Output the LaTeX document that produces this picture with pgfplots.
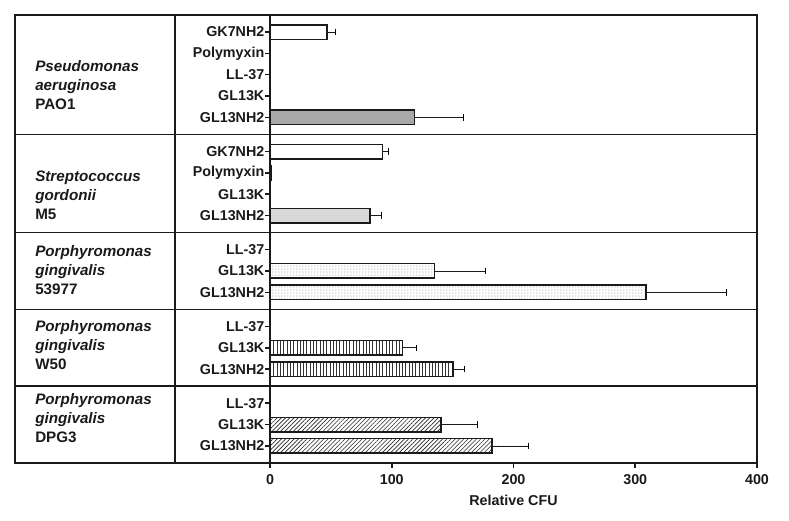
\documentclass[border=0pt]{standalone}
\usepackage{fontspec}
\setmainfont{Liberation Sans}
\usepackage{pgfplots}
\pgfplotsset{compat=1.18}
\usetikzlibrary{patterns.meta}
\definecolor{frame}{HTML}{1A1A1A}
\definecolor{midgray}{HTML}{A8A8A8}
\definecolor{lightgray}{HTML}{D8D8D8}
\begin{document}
\begin{tikzpicture}
\pgfplotsset{eb/.style={error bars/.cd, x dir=plus, x explicit, error mark=|,
  error bar style={line width=0.7pt}, error mark options={rotate=0, mark size=3.2pt, line width=0.7pt}}}
\begin{axis}[
  scale only axis, width=487pt, height=448pt,
  xmin=0, xmax=400, ymin=0, ymax=21, y dir=reverse,
  axis line style={line width=1.6pt, frame},
  clip=false,
  xtick={0,100,200,300,400}, xticklabels={0,100,200,300,400},
  xtick pos=lower, ytick pos=left, tick align=outside,
  major tick length=5pt,
  tick style={line width=1.5pt, frame},
  ytick={0.8,1.8,2.8,3.8,4.8,6.4,7.4,8.4,9.4,11,12,13,14.6,15.6,16.6,18.2,19.2,20.2},
  yticklabels={GK7NH2,Polymyxin,LL-37,GL13K,GL13NH2,GK7NH2,Polymyxin,GL13K,GL13NH2,LL-37,GL13K,GL13NH2,LL-37,GL13K,GL13NH2,LL-37,GL13K,GL13NH2},
  tick label style={font=\bfseries\fontsize{14.3}{15}\selectfont, text=frame},
  yticklabel style={inner xsep=0.5pt},
  xticklabel style={yshift=-3pt},
  xlabel={Relative CFU},
  xlabel style={font=\bfseries\fontsize{14.3}{15}\selectfont, text=frame, yshift=-4pt},
  every axis plot/.append style={xbar, bar shift=0pt, bar width=14.5pt, draw=frame, line width=1.5pt},
]
% white bars
\addplot[fill=white, eb] coordinates {(47,0.8) +- (7,0) (92.5,6.4) +- (5,0)};
% gray bar
\addplot[fill=midgray, eb] coordinates {(118.5,4.8) +- (40.5,0)};
% tiny polymyxin
\addplot[fill=white] coordinates {(1,7.4)};
% light gray bar
\addplot[fill=lightgray, eb] coordinates {(82,9.4) +- (9.5,0)};
% dotted bars
\addplot[pattern={Dots[distance=3pt, radius=0.5pt]}, pattern color=black!55, eb]
  coordinates {(135,12) +- (42,0) (309,13) +- (65.5,0)};
% vertical lines
\addplot[pattern={Lines[angle=90, distance=3.3pt, line width=0.8pt]}, pattern color=black!80, eb]
  coordinates {(109,15.6) +- (11.5,0) (150.5,16.6) +- (9.5,0)};
% hatched
\addplot[pattern={Lines[angle=45, distance=3pt, line width=0.6pt]}, pattern color=black!85, eb]
  coordinates {(140.5,19.2) +- (30,0) (182.5,20.2) +- (30,0)};
% frame and dividers
\draw[line width=1.6pt, frame] (axis cs:-209.4,0) rectangle (axis cs:400,21);
\draw[line width=1.6pt, frame] (axis cs:-78,0) -- (axis cs:-78,21);
\draw[line width=1.6pt, frame] (axis cs:-209.4,5.6) -- (axis cs:400,5.6);
\draw[line width=1.6pt, frame] (axis cs:-209.4,10.2) -- (axis cs:400,10.2);
\draw[line width=1.6pt, frame] (axis cs:-209.4,13.8) -- (axis cs:400,13.8);
\draw[line width=1.6pt, frame] (axis cs:-209.4,17.4) -- (axis cs:400,17.4);
% species labels
\tikzset{sp/.style={anchor=west, align=left, inner sep=0pt, text=frame, font=\bfseries\fontsize{15.2}{19}\selectfont}}
\node[sp] at (axis cs:-193,3.28) {\textit{Pseudomonas}\\\textit{aeruginosa}\\PAO1};
\node[sp] at (axis cs:-193,8.44) {\textit{Streptococcus}\\\textit{gordonii}\\M5};
\node[sp] at (axis cs:-193,11.95) {\textit{Porphyromonas}\\\textit{gingivalis}\\53977};
\node[sp] at (axis cs:-193,15.47) {\textit{Porphyromonas}\\\textit{gingivalis}\\W50};
\node[sp] at (axis cs:-193,18.89) {\textit{Porphyromonas}\\\textit{gingivalis}\\DPG3};
% bounding box matching reference proportions
\path (axis cs:-221.8,-0.703) rectangle (axis cs:426.3,23.72);
\end{axis}
\end{tikzpicture}
\end{document}
